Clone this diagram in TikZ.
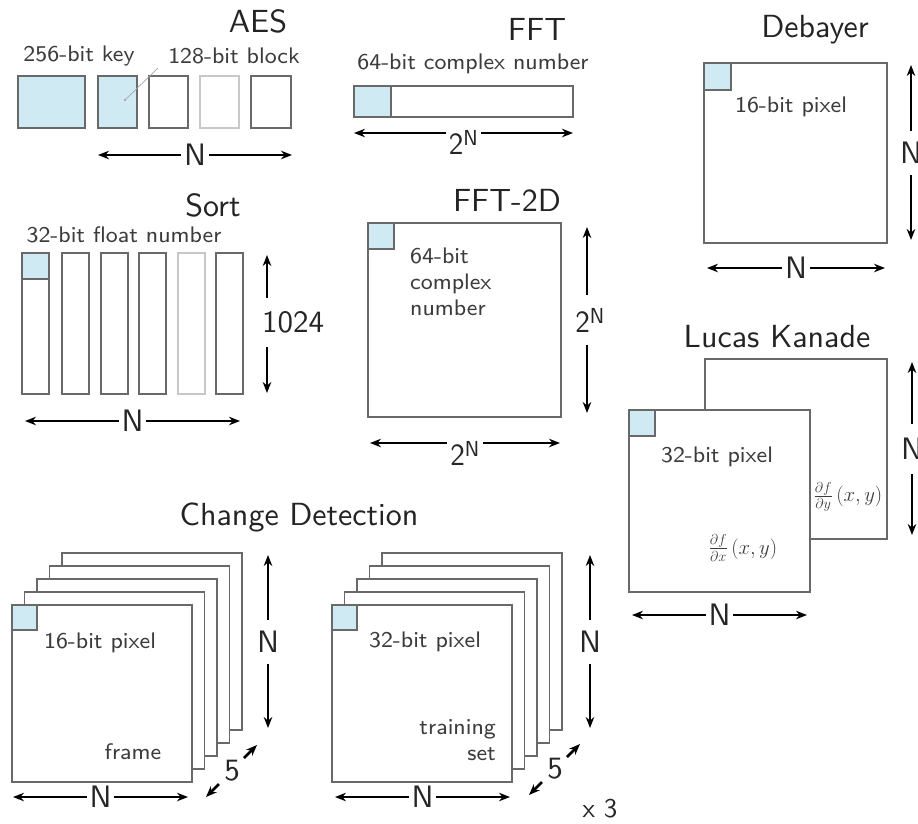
\documentclass[tikz,border=0pt]{standalone}
\usepackage{fontspec}
\usepackage{amsmath}
\usetikzlibrary{arrows.meta}
\newfontfamily\labfam{lmsans8-regular.otf}
\newfontfamily\ttlfam{lmsans10-regular.otf}
\definecolor{boxcol}{RGB}{105,105,105}
\definecolor{faintcol}{RGB}{200,200,200}
\definecolor{cellblue}{RGB}{208,234,244}
\definecolor{txtcol}{RGB}{60,60,60}
\definecolor{ttlcol}{RGB}{35,35,35}
\newcommand\labfont{\labfam\fontsize{22.5}{26}\selectfont}
\newcommand\mathlabfont{\labfam\fontsize{21}{26}\selectfont}
\newcommand\ttlfont{\ttlfam\fontsize{32}{34}\selectfont}
\newcommand\numfont{\ttlfam\fontsize{31}{32}\selectfont}
\tikzset{
  box/.style={draw=boxcol, line width=1.4pt, fill=white, inner sep=0pt, outer sep=0pt, anchor=north west},
  cell/.style={box, fill=cellblue},
  faintbox/.style={box, draw=faintcol},
  lab/.style={font=\labfont, text=txtcol, inner sep=0pt},
  mathlab/.style={lab, font=\mathlabfont},
  ttl/.style={font=\ttlfont, text=ttlcol, inner sep=0pt},
  num/.style={font=\numfont, text=black!85, inner sep=0pt},
  dimarr/.style={line width=2.6pt, {Stealth[length=11pt,width=8.5pt]}-{Stealth[length=11pt,width=8.5pt]}},
  dimtip/.style={line width=2.6pt, -{Stealth[length=11pt,width=8.5pt]}},
  hgap/.style={num, fill=white, inner xsep=3pt, inner ysep=0pt},
  vgap/.style={num, fill=white, minimum height=44pt, inner sep=0pt},
  leader/.style={draw=gray!70, line width=0.7pt}
}
\newcommand\boxat[6]{\node[#6, minimum width=#4pt, minimum height=#5pt] (#1) at (#2,#3) {};}
\begin{document}
\begin{tikzpicture}[x=1pt,y=-1pt]
\useasboundingbox[fill=white] (0,0) rectangle (918,823);

% ---------------- AES ----------------
\node[ttl] (aesT) at (258,21) {AES};
\node[lab] (keyL) at (79,56) {256-bit key};
\node[lab] (blkL) at (234,56) {128-bit block};
\boxat{key}{18}{76}{67}{52}{cell}
\boxat{b1}{98}{76}{39}{52}{cell}
\boxat{b2}{149}{76}{39}{52}{box}
\boxat{b3}{200}{76}{39}{52}{faintbox}
\boxat{b4}{251}{76}{40}{52}{box}
\coordinate (ldA) at (125,100);
\coordinate (ldB) at (158,68);
\draw[leader] (ldA) -- (ldB);
\fill[gray!70] (ldA) circle (1.3);
\draw[dimarr] (98,155) -- (292,155) node[midway, hgap] (aesN) {N};

% ---------------- FFT ----------------
\node[ttl] (fftT) at (537,29) {FFT};
\node[lab] (fftL) at (473,64) {64-bit complex number};
\boxat{bar}{354}{86}{219}{31}{box}
\boxat{barc}{354}{86}{37}{31}{cell}
\draw[dimarr] (354,133) -- (573,133) node[midway, hgap, yshift=-9pt, inner ysep=2pt] (fftN) {$\mathsf{2^N}$};

% ---------------- Debayer ----------------
\node[ttl] (debT) at (815,30) {Debayer};
\boxat{deb}{704}{63}{183}{180}{box}
\boxat{debc}{704}{63}{27}{27}{cell}
\node[lab] (debL) at (791,107) {16-bit pixel};
\draw[dimarr] (911,65) -- (911,240) node[midway, vgap] (debV) {N};
\draw[dimarr] (707,268) -- (885,268) node[midway, hgap] (debH) {N};

% ---------------- Sort ----------------
\node[ttl] (sortT) at (213,205) {Sort};
\node[lab] (sortL) at (124,235) {32-bit float number};
\boxat{c1}{22}{253}{27}{141}{box}
\boxat{c1c}{22}{253}{27}{26}{cell}
\boxat{c2}{62}{253}{27}{141}{box}
\boxat{c3}{101}{253}{27}{141}{box}
\boxat{c4}{139}{253}{27}{141}{box}
\boxat{c5}{178}{253}{27}{141}{faintbox}
\boxat{c6}{216}{253}{27}{141}{box}
\node[num] (n1024) at (293,322) {1024};
\draw[dimtip] (267,298) -- (267,255);
\draw[dimtip] (267,347) -- (267,393);
\draw[dimarr] (25,421) -- (240,421) node[midway, hgap] (sortN) {N};

% ---------------- FFT-2D ----------------
\node[ttl] (f2T) at (507,200) {FFT-2D};
\boxat{f2}{368}{223}{193}{194}{box}
\boxat{f2c}{368}{223}{26}{26}{cell}
\node[lab, align=left, anchor=west] (f2L) at (410,282) {64-bit\\complex\\number};
\draw[dimarr] (587,227) -- (587,413) node[midway, vgap, minimum height=50pt, xshift=3pt] (f2V) {$\mathsf{2^N}$};
\draw[dimarr] (370,443) -- (560,443) node[midway, hgap, yshift=-10pt, inner ysep=2pt] (f2H) {$\mathsf{2^N}$};

% ---------------- Lucas Kanade ----------------
\node[ttl] (lkT) at (777,337) {Lucas Kanade};
\boxat{lkb}{705}{359}{182}{180}{box}
\node[mathlab] (dfdy) at (848,497) {$\frac{\partial f}{\partial y}\,(x,y)$};
\boxat{lkf}{629}{410}{181}{182}{box}
\boxat{lkc}{629}{410}{26}{26}{cell}
\node[lab] (lkL) at (717,457) {32-bit pixel};
\node[mathlab] (dfdx) at (743,548) {$\frac{\partial f}{\partial x}\,(x,y)$};
\draw[dimarr] (912,362) -- (912,535) node[midway, vgap, minimum height=50pt] (lkV) {N};
\draw[dimarr] (632,615) -- (807,615) node[midway, hgap] (lkH) {N};

% ---------------- Change Detection ----------------
\node[ttl] (cdT) at (299,517) {Change Detection};
% left stack
\foreach \k in {4,3,2,1}{
  \node[box, minimum width=180pt, minimum height=177pt] (L\k) at ({12+12.5*\k},{605-13*\k}) {};
}
\boxat{L0}{12}{605}{180}{177}{box}
\boxat{L0c}{12}{605}{25}{25}{cell}
\node[lab] (cdL1) at (100,643) {16-bit pixel};
\node[lab] (cdL2) at (133,752) {frame};
\draw[dimarr] (268,555) -- (268,728) node[midway, vgap] (cdV1) {N};
\draw[dimarr] (13,797) -- (188,797) node[midway, hgap] (cdH1) {N};
\node[num] (five1) at (232,771) {5};
\draw[dimtip] (219,784) -- (206,797);
\draw[dimtip] (244,758) -- (257,745);
% right stack
\foreach \k in {4,3,2,1}{
  \node[box, minimum width=180pt, minimum height=177pt] (R\k) at ({332+12.5*\k},{605-13*\k}) {};
}
\boxat{R0}{332}{605}{180}{177}{box}
\boxat{R0c}{332}{605}{25}{25}{cell}
\node[lab] (cdR1) at (425,642) {32-bit pixel};
\node[lab, align=right, anchor=east] (cdR2) at (496,740) {training\\set};
\draw[dimarr] (590,555) -- (590,728) node[midway, vgap] (cdV2) {N};
\draw[dimarr] (335,797) -- (510,797) node[midway, hgap] (cdH2) {N};
\node[num] (five2) at (555,769) {5};
\draw[dimtip] (542,782) -- (529,795);
\draw[dimtip] (567,757) -- (580,744);
\node[num, font=\ttlfam\fontsize{27}{28}\selectfont] (x3) at (600,809) {x 3};
\end{tikzpicture}
\end{document}
